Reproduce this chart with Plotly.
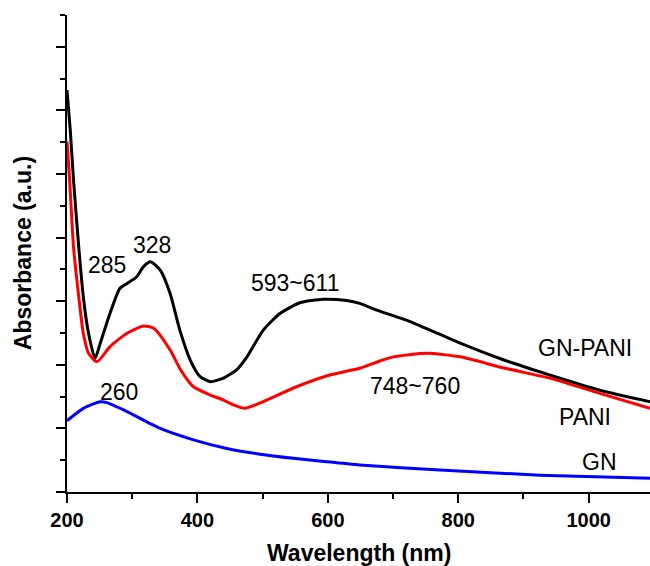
import plotly.graph_objects as go

# UV-Vis absorption spectra (wavelength in nm, absorbance in arbitrary units)
gn_pani_wl = [200, 205, 210, 218, 225, 233, 243, 251, 266, 281, 294, 307, 317, 328,
              343, 358, 373, 389, 404, 420, 440, 460, 476, 501, 527, 557, 593, 629,
              649, 675, 726, 803, 870, 940, 1017, 1094]
gn_pani_abs = [12.64, 11.38, 9.81, 7.71, 6.14, 4.99, 4.20, 4.68, 5.62, 6.40, 6.58, 6.77, 7.08, 7.24,
               6.98, 6.25, 5.09, 4.15, 3.63, 3.47, 3.58, 3.84, 4.25, 5.09, 5.62, 5.95, 6.06, 6.02,
               5.93, 5.72, 5.36, 4.68, 4.15, 3.68, 3.20, 2.84]

pani_wl = [200, 204, 210, 218, 225, 233, 246, 266, 292, 317, 333, 358, 374, 394,
           420, 440, 455, 473, 501, 552, 603, 649, 680, 700, 752, 803, 870, 940, 1017, 1094]
pani_abs = [11.02, 9.81, 7.71, 6.14, 4.99, 4.36, 4.10, 4.57, 4.99, 5.22, 5.15, 4.47, 3.85, 3.31,
            3.05, 2.89, 2.74, 2.63, 2.84, 3.31, 3.68, 3.89, 4.12, 4.25, 4.36, 4.25, 3.90, 3.58, 3.10, 2.63]

gn_wl = [200, 225, 251, 261, 292, 343, 394, 445, 496, 547, 598, 649, 772, 925, 1094]
gn_abs = [2.24, 2.63, 2.84, 2.81, 2.53, 2.00, 1.64, 1.37, 1.19, 1.06, 0.95, 0.85, 0.69, 0.53, 0.43]

# Peak / curve annotations: (text, wavelength, absorbance)
label_text = ["285", "328", "593~611", "748~760", "260", "GN-PANI", "PANI", "GN"]
label_wl = [261, 330, 550, 734, 279, 994, 994, 1017]
label_abs = [7.14, 7.77, 6.57, 3.33, 3.15, 4.53, 2.37, 0.95]

x_ticks = [200, 400, 600, 800, 1000]

FONT = "Liberation Sans, Arial, sans-serif"

fig = go.Figure()
for wl, ab, color in [(gn_pani_wl, gn_pani_abs, "#000000"),
                      (pani_wl, pani_abs, "#ff0000"),
                      (gn_wl, gn_abs, "#0000ff")]:
    fig.add_trace(go.Scatter(x=wl, y=ab, mode="lines",
                             line=dict(color=color, width=3, shape="spline", smoothing=0.6),
                             showlegend=False, hoverinfo="skip"))

for t, x, y in zip(label_text, label_wl, label_abs):
    fig.add_annotation(x=x, y=y, text=t, showarrow=False,
                       font=dict(family=FONT, size=23, color="#000000"))

# Axis titles
fig.add_annotation(xref="paper", yref="paper", x=0.5, y=-0.128, yanchor="middle",
                   text="<b>Wavelength (nm)</b>", showarrow=False,
                   font=dict(family=FONT, size=23, color="#000000"))
fig.add_annotation(xref="paper", yref="paper", x=-0.076, y=0.5, xanchor="center",
                   text="<b>Absorbance (a.u.)</b>", textangle=-90, showarrow=False,
                   font=dict(family=FONT, size=23, color="#000000"))

fig.update_layout(
    width=650, height=566,
    margin=dict(l=67, r=0, t=15, b=74),
    paper_bgcolor="white", plot_bgcolor="white",
    font=dict(family=FONT, color="#000000"),
)
fig.update_xaxes(
    range=[200, 1094], showgrid=False, zeroline=False,
    showline=True, linecolor="#000000", linewidth=2,
    tickmode="array", tickvals=x_ticks, ticktext=[f"<b>{v}</b>" for v in x_ticks],
    ticks="outside", ticklen=9, tickwidth=2, tickcolor="#000000",
    tickfont=dict(family=FONT, size=20, color="#000000"),
    minor=dict(dtick=100, tick0=200, ticks="outside", ticklen=5, tickwidth=2, tickcolor="#000000"),
)
fig.update_yaxes(
    range=[0, 15], showgrid=False, zeroline=False,
    showline=True, linecolor="#000000", linewidth=2,
    dtick=2, tick0=0, showticklabels=False,
    ticks="outside", ticklen=9, tickwidth=2, tickcolor="#000000",
    minor=dict(dtick=1, tick0=0, ticks="outside", ticklen=5, tickwidth=2, tickcolor="#000000"),
)

fig.write_html("out.html")
